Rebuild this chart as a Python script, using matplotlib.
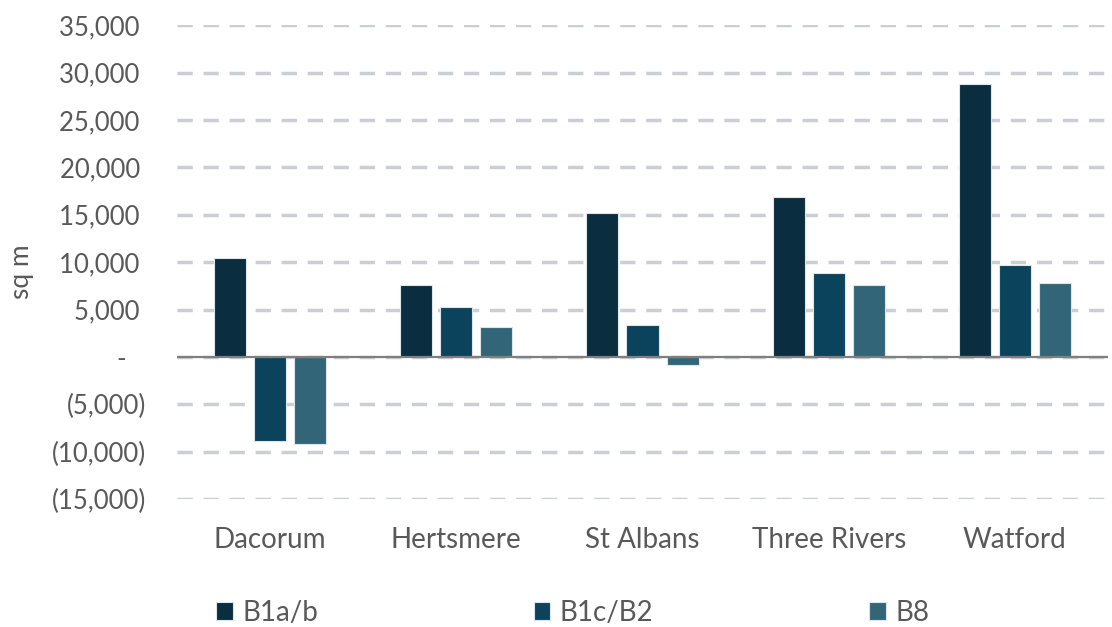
import numpy as np
import matplotlib.pyplot as plt
from matplotlib.ticker import FuncFormatter

plt.rcParams['font.family'] = ['Lato', 'DejaVu Sans']

# floorspace change by district and use class (sq m)
districts = ['Dacorum', 'Hertsmere', 'St Albans', 'Three Rivers', 'Watford']
b1ab = [10400, 7600, 15200, 16900, 28800]
b1cb2 = [-8900, 5300, 3350, 8900, 9700]
b8 = [-9200, 3200, -900, 7600, 7750]

series = [('B1a/b', b1ab, '#0a2d3f'),
          ('B1c/B2', b1cb2, '#0c435c'),
          ('B8', b8, '#336579')]

text_col = '#595959'

def accounting(v, pos):
    # Excel style: 5,000 / - / (5,000)
    if v == 0:
        return '-   '
    if v < 0:
        return '({:,.0f})'.format(-v)
    return '{:,.0f} '.format(v)

fig = plt.figure(figsize=(11.12, 6.27), dpi=100)
ax = fig.add_axes([177/1112, 1 - 499/627, (1108 - 177)/1112, (499 - 25.3)/627])

x = np.arange(len(districts))
width = 0.172
step = 0.215
for i, (name, vals, col) in enumerate(series):
    ax.bar(x + (i - 1)*step, vals, width, color=col, edgecolor='#dce6ea',
           linewidth=0.8, label=name, zorder=2)

ax.axhline(0, color='#7f7f7f', lw=1.6, zorder=3)

ax.set_xlim(-0.5, len(districts) - 0.5)
ax.set_ylim(-15000, 35000)
ax.set_yticks(np.arange(-15000, 35001, 5000))
ax.yaxis.set_major_formatter(FuncFormatter(accounting))
ax.set_xticks(x)
ax.set_xticklabels(districts)

ax.yaxis.grid(True, color='#cbced2', linewidth=2.5, linestyle=(0, (4.4, 3.1)))
ax.set_axisbelow(True)
for s in ax.spines.values():
    s.set_visible(False)
ax.tick_params(axis='y', length=0, labelsize=18.5, labelcolor=text_col, pad=22)
ax.tick_params(axis='x', length=0, labelsize=20, labelcolor=text_col, pad=20)

fig.text(22/1112, 1 - 272/627, 'sq m', rotation=90, ha='center', va='center',
         fontsize=19, color=text_col)

fig.legend(loc='center', bbox_to_anchor=(0.515, 1 - 613/627), ncol=3,
           frameon=False, fontsize=20, labelcolor=text_col,
           handlelength=0.6, handleheight=0.6, handletextpad=0.35,
           columnspacing=7.75)

fig.savefig('out.png', dpi=100)
